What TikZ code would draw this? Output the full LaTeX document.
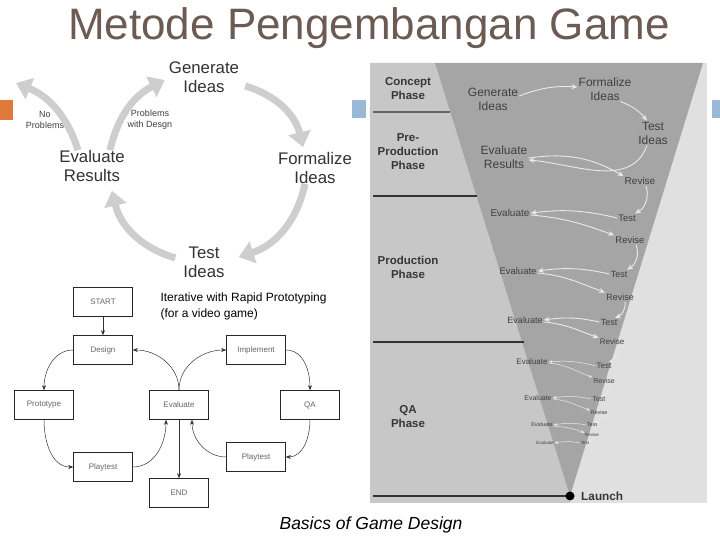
\documentclass[tikz,border=0pt]{standalone}
\usepackage{fontspec}
\setmainfont{Liberation Sans}
\usepackage{tikz}
\usetikzlibrary{arrows.meta,calc}
\definecolor{titlebrown}{RGB}{107,91,82}
\definecolor{cyclegray}{RGB}{206,206,206}
\definecolor{panelleft}{RGB}{199,199,199}
\definecolor{panelright}{RGB}{224,224,224}
\definecolor{funnelgray}{RGB}{165,165,165}
\definecolor{spiralwhite}{RGB}{234,234,234}
\definecolor{phasetext}{RGB}{55,55,55}
\definecolor{accentorange}{RGB}{224,122,58}
\definecolor{accentblue}{RGB}{154,185,214}

\begin{document}
\begin{tikzpicture}[x=1pt, y=1pt,
				cyctext/.style={align=center, font=\fontsize{16.8}{19}\selectfont, text=black!80, inner sep=2pt},
				cycarr/.style={draw=cyclegray, line width=7pt, -{Triangle[width=22pt,length=15pt]}},
				smalllbl/.style={align=center, font=\fontsize{9}{11}\selectfont, text=black!75},
				flowbox/.style={draw=black!85, line width=0.6pt, minimum width=59pt, minimum height=29pt,
						inner sep=0pt, font=\fontsize{8}{9}\selectfont, text=black!60},
				flowarr/.style={draw=black!80, line width=0.5pt, -{Stealth[length=5pt,width=4pt]}},
				phase/.style={align=center, font=\bfseries\fontsize{11.5}{14}\selectfont, text=phasetext},
				phaseline/.style={draw=black!80, line width=1.2pt},
				fnbig/.style={align=center, text=black!75, inner sep=1pt, font=\fontsize{12}{14}\selectfont},
				fnl0/.style={text=black!75, inner sep=1pt, font=\fontsize{10}{11}\selectfont},
				fnl1/.style={text=black!75, inner sep=1pt, font=\fontsize{9.5}{11}\selectfont},
				fnl2/.style={text=black!75, inner sep=1pt, font=\fontsize{9}{10}\selectfont},
				fnl3/.style={text=black!75, inner sep=1pt, font=\fontsize{8}{9}\selectfont},
				fnl4/.style={text=black!75, inner sep=1pt, font=\fontsize{7}{8}\selectfont},
				fnl5/.style={text=black!75, inner sep=0.5pt, font=\fontsize{5.5}{6}\selectfont},
				fnl6/.style={text=black!75, inner sep=0.5pt, font=\fontsize{4.5}{5}\selectfont},
				spiral/.style={draw=spiralwhite, line width=0.9pt, -{Stealth[length=6pt,width=5pt]}},
				spiralsm/.style={draw=spiralwhite, line width=0.5pt, -{Stealth[length=3.5pt,width=3pt]}},
			]
			\useasboundingbox (0,0) rectangle (720,540);
			\fill[white] (0,0) rectangle (720,540);
			% title and side marks
			\node[anchor=base, text=titlebrown, font=\fontsize{44}{48}\selectfont] (title) at (369,500) {Metode Pengembangan Game};
			\fill[accentorange] (0,420) rectangle (13,440);
			\fill[accentblue] (352,422) rectangle (366,440);
			\fill[accentblue] (712,422) rectangle (720,440);
			% design cycle
			\node[cyctext] (gen)  at (204,463) {Generate\\Ideas};
			\node[cyctext] (form) at (315,372) {Formalize\\Ideas};
			\node[cyctext] (test) at (204,278) {Test\\Ideas};
			\node[cyctext] (eval) at (92,374)  {Evaluate\\Results};
			\node[smalllbl] (noprob)  at (45,420)  {No\\Problems};
			\node[smalllbl] (probdes) at (150,420) {Problems\\with Desgn};
			\coordinate (exitpt) at (16,457);
			\draw[cycarr] ([shift={(4,-9)}]gen.east) to[bend left=30] ([shift={(-12,3)}]form.north);
			\draw[cycarr] ([shift={(-10,2)}]form.south) to[bend left=30] ([shift={(12,5)}]test.east);
			\draw[cycarr] ([shift={(-6,4)}]test.west) to[bend left=30] ([shift={(20,-7)}]eval.south);
			\draw[cycarr] ([shift={(18,-2)}]eval.north) to[bend left=25] ([shift={(-2,-3)}]gen.west);
			\draw[cycarr] ([shift={(-14,-2)}]eval.north) to[bend right=25] (exitpt);
			% rapid prototyping flow
			\node[anchor=north west, align=left, font=\fontsize{12}{16}\selectfont] (itertitle) at (157,251)
			{Iterative with Rapid Prototyping\\(for a video game)};
			\node[flowbox] (start)  at (103,238) {START};
			\node[flowbox] (design) at (103,190) {Design};
			\node[flowbox] (proto)  at (44,135)  {Prototype};
			\node[flowbox] (evbox)  at (179,135) {Evaluate};
			\node[flowbox] (impl)   at (256,190) {Implement};
			\node[flowbox] (qa)     at (310,135) {QA};
			\node[flowbox] (playl)  at (103,73)  {Playtest};
			\node[flowbox] (playr)  at (256,83)  {Playtest};
			\node[flowbox] (finish) at (179,47)  {END};
			\draw[flowarr] (start.south) -- (design.north);
			\draw[flowarr] (design.west) to[out=180,in=90] (proto.north);
			\draw[flowarr] (proto.south) to[out=-90,in=180] (playl.west);
			\draw[flowarr] (playl.east) to[out=0,in=-90] ([xshift=-13]evbox.south);
			\draw[flowarr] (evbox.north) to[out=90,in=0] (design.east);
			\draw[flowarr] (evbox.north) to[out=90,in=180] (impl.west);
			\draw[flowarr] (impl.east) to[out=0,in=90] (qa.north);
			\draw[flowarr] (qa.south) to[out=-90,in=0] (playr.east);
			\draw[flowarr] (playr.west) to[out=180,in=-90] ([xshift=13]evbox.south);
			\draw[flowarr] (evbox.south) -- (finish.north);
			% funnel panel
			\fill[panelright] (370,37) rectangle (707,477);
			\fill[panelleft] (370,37) -- (370,477) -- (435,477) -- (570,44) -- (570,37) -- cycle;
			\fill[funnelgray] (435,477) -- (703,477) -- (570,44) -- cycle;
			\draw[phaseline, draw=black!60] (373,428) -- (450,428);
			\draw[phaseline] (373,344) -- (477,344);
			\draw[phaseline] (373,198) -- (524,198);
			\draw[phaseline] (373,44) -- (570,44);
			\node[circle, fill=black, inner sep=0pt, minimum size=9pt] (apex) at (570,44) {};
			\node[anchor=west, font=\bfseries\fontsize{11.8}{13}\selectfont, text=phasetext] (launch) at ([xshift=3]apex.east) {Launch};
			\node[phase] (ph1) at (408,451) {Concept\\Phase};
			\node[phase] (ph2) at (408,388) {Pre-\\Production\\Phase};
			\node[phase] (ph3) at (408,273) {Production\\Phase};
			\node[phase] (ph4) at (408,123) {QA\\Phase};
			% spiral inside the funnel
			\node[fnbig] (gi) at (493,441) {Generate\\Ideas};
			\node[fnbig] (fi) at (605,451) {Formalize\\Ideas};
			\node[fnbig] (ti) at (653,407) {Test\\Ideas};
			\node[fnbig] (er) at (504,383) {Evaluate\\Results};
			\node[fnl0] (rv0) at (640,359) {Revise};
			\node[fnl0] (ev1) at (510,327) {Evaluate};
			\node[fnl1] (ts1) at (627,322) {Test};
			\node[fnl1] (rv1) at (630,300) {Revise};
			\node[fnl1] (ev2) at (518,269) {Evaluate};
			\node[fnl2] (ts2) at (619,266) {Test};
			\node[fnl2] (rv2) at (620,243) {Revise};
			\node[fnl2] (ev3) at (525,220) {Evaluate};
			\node[fnl2] (ts3) at (609,218) {Test};
			\node[fnl3] (rv3) at (612,198) {Revise};
			\node[fnl3] (ev4) at (532,178) {Evaluate};
			\node[fnl3] (ts4) at (604,174) {Test};
			\node[fnl4] (rv4) at (604,159) {Revise};
			\node[fnl4] (ev5) at (538,142) {Evaluate};
			\node[fnl4] (ts5) at (599,141) {Test};
			\node[fnl5] (rv5) at (599,127) {Revise};
			\node[fnl5] (ev6) at (542,115) {Evaluate};
			\node[fnl5] (ts6) at (592,115) {Test};
			\node[fnl6] (rv6) at (592,105) {Revise};
			\node[fnl6] (ev7) at (545,97)  {Evaluate};
			\node[fnl6] (ts7) at (585,97)  {Test};
			\draw[spiral] ([yshift=3]gi.east) to[bend left=12] ([yshift=2]fi.west);
			\draw[spiral] ([xshift=-12]fi.south east) to[bend left=15] ([xshift=-6]ti.north);
			\draw[spiral] ([xshift=-6]ti.south) to[out=-110,in=-5] ([yshift=-3]er.east);
			\draw[spiral] ([yshift=-1]er.east) to[out=8,in=150] (rv0.north west);
			\draw[spiral] ([xshift=6]rv0.south) to[bend left=40] ([xshift=8]ts1.north);
			\draw[spiral] (ts1.west) to[bend right=10] (ev1.east);
			\draw[spiral] ([yshift=-2]ev1.east) to[out=-5,in=160] (rv1.north west);
			\draw[spiral] ([xshift=6]rv1.south) to[bend left=40] ([xshift=8]ts2.north);
			\draw[spiral] (ts2.west) to[bend right=10] (ev2.east);
			\draw[spiral] ([yshift=-2]ev2.east) to[out=-5,in=160] (rv2.north west);
			\draw[spiral] ([xshift=5]rv2.south) to[bend left=40] ([xshift=6]ts3.north);
			\draw[spiral] (ts3.west) to[bend right=10] (ev3.east);
			\draw[spiral] ([yshift=-2]ev3.east) to[out=-5,in=160] (rv3.north west);
			\draw[spiralsm] ([xshift=5]rv3.south) to[bend left=40] ([xshift=5]ts4.north);
			\draw[spiralsm] (ts4.west) to[bend right=10] (ev4.east);
			\draw[spiralsm] ([yshift=-1]ev4.east) to[out=-5,in=160] (rv4.north west);
			\draw[spiralsm] ([xshift=4]rv4.south) to[bend left=40] ([xshift=4]ts5.north);
			\draw[spiralsm] (ts5.west) to[bend right=10] (ev5.east);
			\draw[spiralsm] ([yshift=-1]ev5.east) to[out=-5,in=160] (rv5.north west);
			\draw[spiralsm] ([xshift=3]rv5.south) to[bend left=40] ([xshift=3]ts6.north);
			\draw[spiralsm] (ts6.west) to[bend right=10] (ev6.east);
			\draw[spiralsm] ([yshift=-1]ev6.east) to[out=-5,in=160] (rv6.north west);
			\draw[spiralsm] ([xshift=3]rv6.south) to[bend left=40] ([xshift=3]ts7.north);
			\draw[spiralsm] (ts7.west) to[bend right=10] (ev7.east);
			% source line
			\node[anchor=base, font=\itshape\fontsize{17.5}{20}\selectfont] (source) at (371,10) {Basics of Game Design};
		\end{tikzpicture}
\end{document}
